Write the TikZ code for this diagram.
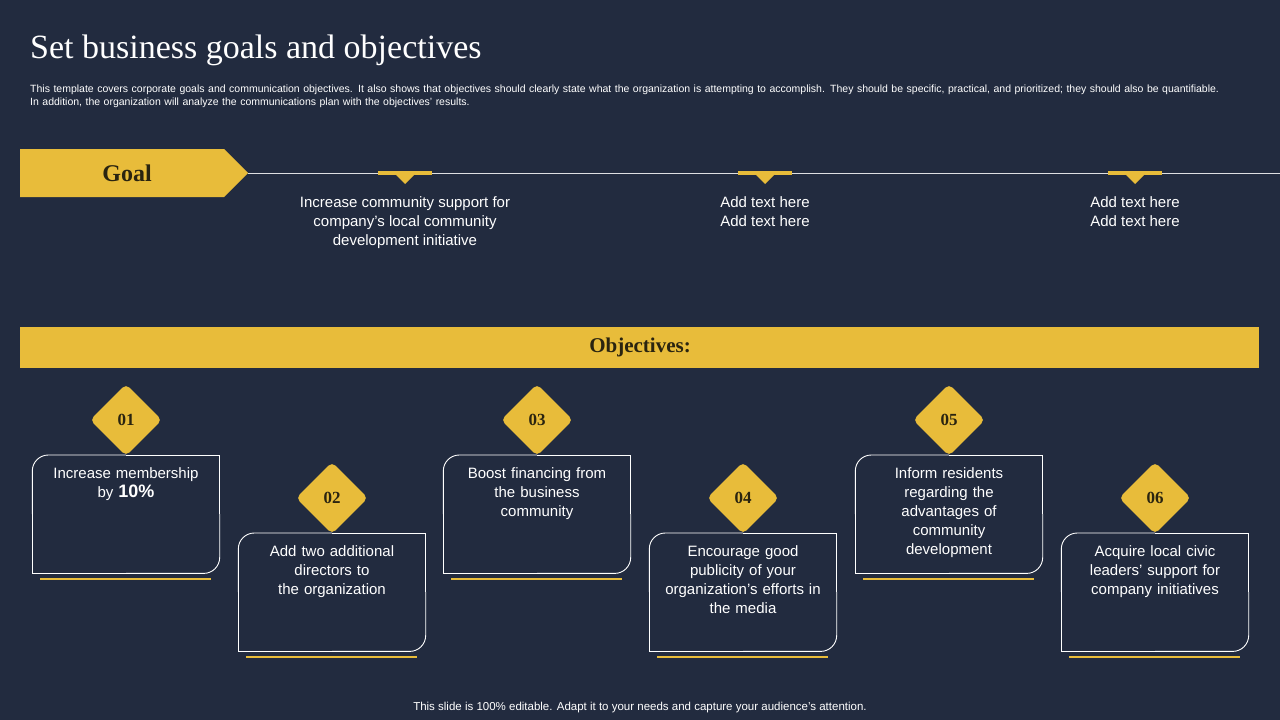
\documentclass[tikz,border=0pt]{standalone}
\usepackage{fontspec}
\setmainfont{Liberation Sans}
\newfontfamily\serifttl{Liberation Serif}
\usetikzlibrary{shapes.geometric,positioning}
\definecolor{bgnavy}{HTML}{222B3F}
\definecolor{gold}{HTML}{E8BC3A}
\definecolor{txtgold}{HTML}{2A2410}
\begin{document}
\begin{tikzpicture}[x=1pt,y=-1pt]
  \tikzset{
    goaltext/.style={text=white,align=center,font=\fontsize{15}{19}\selectfont,anchor=north,inner sep=0pt},
    objbox/.style={minimum width=187pt,minimum height=118pt,inner sep=0pt},
    objtext/.style={text=white,align=center,text width=170pt,font=\fontsize{15}{19}\selectfont,anchor=north,inner sep=0pt},
    numdia/.style={diamond,fill=gold,minimum size=72pt,inner sep=0pt,rounded corners=5pt,
      text=txtgold,font=\serifttl\bfseries\fontsize{17}{17}\selectfont},
    underbar/.style={gold,line width=2pt}
  }
  \fill[bgnavy] (0,0) rectangle (1280,720);
  \useasboundingbox (0,0) rectangle (1280,720);
  % title and intro
  \node[anchor=west,text=white,font=\serifttl\fontsize{34}{34}\selectfont,inner sep=0pt] (title) at (30,50) {Set business goals and objectives};
  \node[anchor=north west,text=white,text width=1200pt,font=\fontsize{10.5}{13}\selectfont,inner sep=0pt] (intro) at (30,85)
    {This template covers corporate goals and communication objectives. It also shows that objectives should clearly state what the organization is attempting to accomplish. They should be specific, practical, and prioritized; they should also be quantifiable. In addition, the organization will analyze the communications plan with the objectives' results.};
  % goal row
  \fill[gold] (20,149) -- (224,149) -- (248,173) -- (224,197) -- (20,197) -- cycle;
  \node[text=txtgold,font=\serifttl\bfseries\fontsize{24}{24}\selectfont] (goal) at (127,173) {Goal};
  \coordinate (tip) at (248,173);
  \coordinate (lineend) at (1280,173);
  \draw[white!85!bgnavy,line width=1pt] (tip) -- (lineend);
  \foreach \x/\n/\t in {405/1/{Increase community support for\\company's local community\\development initiative},
                        765/2/{Add text here\\Add text here},
                        1135/3/{Add text here\\Add text here}}{
    \fill[gold] (\x-27,170.5) rectangle (\x+27,174.5);
    \fill[gold] (\x-10,174) -- (\x+10,174) -- (\x,184) -- cycle;
    \node[goaltext] (g\n) at (\x,196) {\t};
  }
  % objectives bar
  \fill[gold] (20,327) rectangle (1259,368);
  \node[text=txtgold,font=\serifttl\bfseries\fontsize{21}{21}\selectfont] (objhead) at (640,347.5) {Objectives:};
  % objective boxes
  \foreach \n/\x/\y/\t in {1/126/455/{Increase membership\\by \textbf{\fontsize{18}{19}\selectfont 10\%}},
                           2/332/533/{Add two additional\\directors to\\the organization},
                           3/537/455/{Boost financing from\\the business\\community},
                           4/743/533/{Encourage good\\publicity of your\\organization's efforts in\\the media},
                           5/949/455/{Inform residents\\regarding the\\advantages of\\community\\development},
                           6/1155/533/{Acquire local civic\\leaders' support for\\company initiatives}}{
    \node[objbox,anchor=north] (b\n) at (\x,\y) {};
    \draw[white,line width=0.9pt,rounded corners=16pt] (b\n.west) |- (b\n.north);
    \draw[white,line width=0.9pt] (b\n.north) -| (b\n.east);
    \draw[white,line width=0.9pt,rounded corners=16pt] (b\n.east) |- (b\n.south);
    \draw[white,line width=0.9pt] (b\n.south) -| (b\n.west);
    \node[objtext,below=12pt of b\n.north] (t\n) {\t};
    \node[numdia] (d\n) at (\x,\y-35) {0\n};
    \draw[underbar] ([xshift=8pt,yshift=-6pt]b\n.south west) -- ([xshift=-9pt,yshift=-6pt]b\n.south east);
  }
  % footer
  \node[text=white,font=\fontsize{11.5}{13}\selectfont] (foot) at (640,708) {This slide is 100\% editable. Adapt it to your needs and capture your audience's attention.};
\end{tikzpicture}
\end{document}
